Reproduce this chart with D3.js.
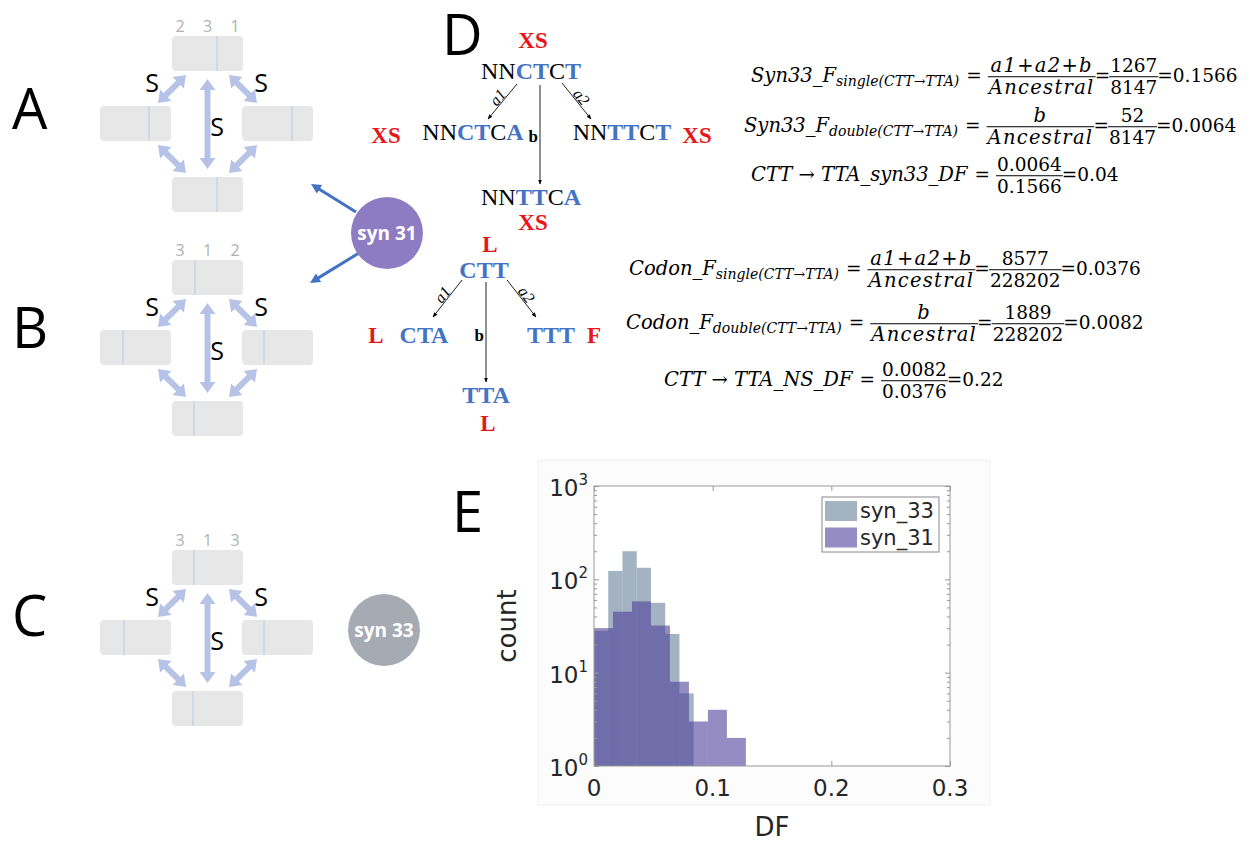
<!DOCTYPE html>
<html>
<head>
<meta charset="utf-8">
<script src="https://cdn.jsdelivr.net/npm/d3@7"></script>
<style>
  body { margin: 0; background: #fff; }
  svg { display: block; }
</style>
</head>
<body>
<div id="chart-area"></div>
<script>
// histogram data (panel E)
var syn33Edges = [0, 0.012, 0.024, 0.036, 0.048, 0.060, 0.072, 0.084];
var syn33Counts = [28, 123, 200, 133, 56, 26, 6];
var syn31Edges = [0, 0.016, 0.032, 0.048, 0.064, 0.080, 0.096, 0.112, 0.128];
var syn31Counts = [30, 45, 58, 32, 8, 3, 4, 2];
var seriesNames = ["syn_33", "syn_31"];
var xTicks = [0, 0.1, 0.2, 0.3];
var yTicks = [1, 10, 100, 1000];
var yTickExp = ["0", "1", "2", "3"];

// codon position labels of panels A, B, C
var posLabels = [["2", "3", "1"], ["3", "1", "2"], ["3", "1", "3"]];

var svg = d3.select("#chart-area")
    .append("svg")
    .attr("width", 1251)
    .attr("height", 843);

var sans = "'Open Sans', sans-serif";
var serif = "'Liberation Serif', 'Times New Roman', serif";
var mathFont = "'DejaVu Serif', serif";
var red = "#e8161b", blue = "#4472c4";

// ---------- panel letters
[["A", 12, 129], ["B", 12, 348], ["C", 12, 636], ["D", 442, 55], ["E", 452, 532]].forEach(function(d) {
    svg.append("text")
        .attr("x", d[1]).attr("y", d[2])
        .style("font-family", sans).style("font-size", "56px")
        .text(d[0]);
});

// ---------- panels A B C : four boxes with double arrows
function dblArrow(g, x1, y1, x2, y2) {
    var sw = 6, hw = 16, hl = 11;
    var dx = x2 - x1, dy = y2 - y1, L = Math.hypot(dx, dy);
    var ux = dx / L, uy = dy / L, px = -uy, py = ux;
    function p(t, s) { return [x1 + ux * t + px * s, y1 + uy * t + py * s]; }
    var pts = [p(0, 0), p(hl, hw / 2), p(hl, sw / 2), p(L - hl, sw / 2), p(L - hl, hw / 2),
        p(L, 0), p(L - hl, -hw / 2), p(L - hl, -sw / 2), p(hl, -sw / 2), p(hl, -hw / 2)];
    g.append("polygon")
        .attr("points", pts.map(function(q) { return q.join(","); }).join(" "))
        .attr("fill", "#b7c3e6");
}

var panelOffsets = [0, 224, 514];
// divider x offset inside each box: [top, left, right, bottom]
var dividers = [[45, 49, 50, 45], [23, 23, 22, 22], [22, 24, 22, 21]];

panelOffsets.forEach(function(dy, k) {
    var g = svg.append("g").attr("transform", "translate(0," + dy + ")");
    var boxes = [[172, 36], [100, 106], [242, 106], [172, 177]];
    boxes.forEach(function(b, i) {
        g.append("rect")
            .attr("x", b[0]).attr("y", b[1])
            .attr("width", 71).attr("height", 35)
            .attr("rx", 4)
            .attr("fill", "#e7e7e7");
        g.append("line")
            .attr("x1", b[0] + dividers[k][i]).attr("x2", b[0] + dividers[k][i])
            .attr("y1", b[1]).attr("y2", b[1] + 35)
            .attr("stroke", "#b9c9e6").attr("stroke-width", 1);
    });
    posLabels[k].forEach(function(t, i) {
        g.append("text")
            .attr("x", 180 + i * 27.5).attr("y", 32)
            .attr("text-anchor", "middle")
            .style("font-family", sans).style("font-size", "16px")
            .attr("fill", "#b0b0b0")
            .text(t);
    });
    dblArrow(g, 158, 103, 186, 75);
    dblArrow(g, 229, 75, 257, 103);
    dblArrow(g, 207.5, 79, 207.5, 169);
    dblArrow(g, 158, 145, 186, 173);
    dblArrow(g, 257, 145, 229, 173);
    [[152, 92], [261, 92], [217, 136]].forEach(function(s) {
        g.append("text")
            .attr("x", s[0]).attr("y", s[1])
            .attr("text-anchor", "middle")
            .style("font-family", sans).style("font-size", "25px")
            .text("S");
    });
});

// ---------- syn circles
function circleLabel(cx, cy, r, fill, label) {
    svg.append("circle").attr("cx", cx).attr("cy", cy).attr("r", r).attr("fill", fill);
    svg.append("text")
        .attr("x", cx).attr("y", cy + 7)
        .attr("text-anchor", "middle")
        .style("font-family", sans).style("font-size", "19px").style("font-weight", "bold")
        .attr("fill", "#fff")
        .text(label);
}

function blueArrow(x1, y1, x2, y2) {
    var dx = x2 - x1, dy = y2 - y1, L = Math.hypot(dx, dy);
    var ux = dx / L, uy = dy / L;
    svg.append("line")
        .attr("x1", x1).attr("y1", y1)
        .attr("x2", x2 - ux * 6).attr("y2", y2 - uy * 6)
        .attr("stroke", blue).attr("stroke-width", 3);
    var bx = x2 - ux * 10, by = y2 - uy * 10;
    svg.append("polygon")
        .attr("points", [[x2, y2], [bx - uy * 5, by + ux * 5], [bx + uy * 5, by - ux * 5]]
            .map(function(q) { return q.join(","); }).join(" "))
        .attr("fill", blue);
}
blueArrow(356, 212, 311, 184);
blueArrow(359, 253, 310, 283);
circleLabel(387, 233, 36, "#8e7cc3", "syn 31");
circleLabel(384, 630, 36, "#a6abb3", "syn 33");

// ---------- panel D trees
function node(cx, y, parts, size) {
    var t = svg.append("text")
        .attr("x", cx).attr("y", y)
        .attr("text-anchor", "middle")
        .style("font-family", serif).style("font-size", (size || 24) + "px");
    parts.forEach(function(p) {
        t.append("tspan")
            .attr("fill", p[1] ? blue : "#000")
            .style("font-weight", p[1] ? "bold" : "normal")
            .text(p[0]);
    });
}
function redLabel(cx, y, s) {
    svg.append("text")
        .attr("x", cx).attr("y", y)
        .attr("text-anchor", "middle")
        .style("font-family", serif).style("font-size", "23px").style("font-weight", "bold")
        .attr("fill", red)
        .text(s);
}

svg.append("defs").append("marker")
    .attr("id", "tip")
    .attr("viewBox", "0 0 10 10")
    .attr("refX", 9).attr("refY", 5)
    .attr("markerWidth", 5).attr("markerHeight", 5)
    .attr("orient", "auto")
    .append("path").attr("d", "M0,1 L10,5 L0,9 Z").attr("fill", "#000");

function thinArrow(x1, y1, x2, y2) {
    svg.append("line")
        .attr("x1", x1).attr("y1", y1).attr("x2", x2).attr("y2", y2)
        .attr("stroke", "#222").attr("stroke-width", 1)
        .attr("marker-end", "url(#tip)");
}
function edgeLabel(x1, y1, x2, y2, s) {
    var ang = Math.atan2(y2 - y1, x2 - x1) * 180 / Math.PI;
    if (ang > 90) ang -= 180;
    svg.append("text")
        .attr("transform", "translate(" + (x1 + x2) / 2 + "," + (y1 + y2) / 2 + ") rotate(" + ang + ")")
        .attr("text-anchor", "middle")
        .attr("dy", -1)
        .style("font-family", serif).style("font-size", "16px").style("font-style", "italic")
        .text(s);
}
function bLabel(x, y) {
    svg.append("text")
        .attr("x", x).attr("y", y)
        .attr("text-anchor", "end")
        .style("font-family", serif).style("font-size", "17px").style("font-weight", "bold")
        .text("b");
}

// upper tree (nucleotide context)
redLabel(533, 48, "XS");
node(531, 79, [["NN", 0], ["CT", 1], ["C", 0], ["T", 1]]);
thinArrow(517, 84, 488, 119);
thinArrow(540, 85, 540, 184);
thinArrow(562, 83, 591, 119);
edgeLabel(517, 84, 488, 119, "a1");
edgeLabel(562, 83, 591, 119, "a2");
bLabel(538, 142);
redLabel(386, 143, "XS");
node(473, 140, [["NN", 0], ["CT", 1], ["C", 0], ["A", 1]]);
node(622, 140, [["NN", 0], ["TT", 1], ["C", 0], ["T", 1]]);
redLabel(697, 143, "XS");
node(531, 205, [["NN", 0], ["TT", 1], ["C", 0], ["A", 1]]);
redLabel(533, 230, "XS");

// lower tree (codon)
redLabel(490, 252, "L");
node(484, 278, [["CTT", 1]]);
thinArrow(462, 280, 433, 317);
thinArrow(486, 282, 486, 382);
thinArrow(507, 280, 536, 317);
edgeLabel(462, 280, 433, 317, "a1");
edgeLabel(507, 280, 536, 317, "a2");
bLabel(484, 341);
redLabel(376, 343, "L");
node(424, 343, [["CTA", 1]]);
node(551, 343, [["TTT", 1]]);
redLabel(594, 343, "F");
node(486, 403, [["TTA", 1]]);
redLabel(488, 431, "L");

// ---------- formulas
function formula(x, y, parts, fs) {
    var g = svg.append("g");
    var cx = x;
    function fracText(yy, s, it) {
        return g.append("text").attr("y", yy)
            .attr("text-anchor", "middle")
            .style("font-family", mathFont).style("font-size", (it ? fs : fs * 0.95) + "px")
            .style("font-style", it ? "italic" : "normal")
            .style("letter-spacing", it ? "1.3px" : "0px")
            .text(s);
    }
    parts.forEach(function(p) {
        if (p.frac) {
            var num = fracText(y - fs * 0.5, p.frac[0], p.it);
            var den = fracText(y + fs * 0.64, p.frac[1], p.it);
            var w = Math.max(num.node().getComputedTextLength(), den.node().getComputedTextLength()) + 2;
            num.attr("x", cx + w / 2);
            den.attr("x", cx + w / 2);
            g.append("line")
                .attr("x1", cx).attr("x2", cx + w)
                .attr("y1", y - fs * 0.27).attr("y2", y - fs * 0.27)
                .attr("stroke", "#000").attr("stroke-width", 1);
            cx += w;
        } else {
            var size = p.sub ? fs * 0.72 : (p.it ? fs : fs * 0.95);
            var pad = p.pad || -1;
            var t = g.append("text")
                .attr("x", cx + pad)
                .attr("y", y + (p.sub ? fs * 0.18 : 0))
                .style("font-family", mathFont).style("font-size", size + "px")
                .style("font-style", p.it ? "italic" : "normal")
                .text(p.t);
            cx += t.node().getComputedTextLength() + (p.it ? 0 : 2 * pad);
        }
    });
}

var fs = 19.5;
formula(752, 82, [{ t: "Syn33_F", it: 1 }, { t: "single(CTT→TTA)", it: 1, sub: 1 },
    { t: "=", pad: 6 }, { frac: ["a1+a2+b", "Ancestral"], it: 1 }, { t: "=" },
    { frac: ["1267", "8147"] }, { t: "=0.1566" }], fs);
formula(745, 132, [{ t: "Syn33_F", it: 1 }, { t: "double(CTT→TTA)", it: 1, sub: 1 },
    { t: "=", pad: 6 }, { frac: ["b", "Ancestral"], it: 1 }, { t: "=" },
    { frac: ["52", "8147"] }, { t: "=0.0064" }], fs);
formula(752, 181, [{ t: "CTT → TTA_syn33_DF", it: 1 }, { t: "=", pad: 6 },
    { frac: ["0.0064", "0.1566"] }, { t: "=0.04" }], fs);

formula(630, 275, [{ t: "Codon_F", it: 1 }, { t: "single(CTT→TTA)", it: 1, sub: 1 },
    { t: "=", pad: 6 }, { frac: ["a1+a2+b", "Ancestral"], it: 1 }, { t: "=" },
    { frac: ["8577", "228202"] }, { t: "=0.0376" }], fs);
formula(627, 329, [{ t: "Codon_F", it: 1 }, { t: "double(CTT→TTA)", it: 1, sub: 1 },
    { t: "=", pad: 6 }, { frac: ["b", "Ancestral"], it: 1 }, { t: "=" },
    { frac: ["1889", "228202"] }, { t: "=0.0082" }], fs);
formula(665, 386, [{ t: "CTT → TTA_NS_DF", it: 1 }, { t: "=", pad: 6 },
    { frac: ["0.0082", "0.0376"] }, { t: "=0.22" }], fs);

// ---------- panel E histogram
var hsans = "'DejaVu Sans', sans-serif";
var plotL = 594, plotR = 950, plotT = 486, plotB = 766;

svg.append("rect")
    .attr("x", 538).attr("y", 460).attr("width", 452).attr("height", 345)
    .attr("fill", "#fcfcfc").attr("stroke", "#f1f1f1");
svg.append("rect")
    .attr("x", plotL).attr("y", plotT).attr("width", plotR - plotL).attr("height", plotB - plotT)
    .attr("fill", "#fff");

var x = d3.scaleLinear().domain([0, 0.3]).range([plotL, plotR]);
var y = d3.scaleLog().domain([1, 1000]).range([plotB, plotT]);

function bins(edges, counts) {
    return counts.map(function(c, i) { return { x0: edges[i], x1: edges[i + 1], c: c }; });
}

var colors = ["rgb(102,128,153)", "rgb(77,64,153)"];
[bins(syn33Edges, syn33Counts), bins(syn31Edges, syn31Counts)].forEach(function(data, k) {
    svg.append("g").selectAll("rect")
        .data(data)
        .enter().append("rect")
        .attr("x", function(d) { return x(d.x0); })
        .attr("width", function(d) { return x(d.x1) - x(d.x0); })
        .attr("y", function(d) { return y(d.c); })
        .attr("height", function(d) { return y(1) - y(d.c); })
        .attr("fill", colors[k])
        .attr("fill-opacity", 0.6);
});

// axes, ticks pointing inward, box on
var minor = [];
[1, 10, 100].forEach(function(dec) {
    for (var m = 2; m <= 9; m++) minor.push(dec * m);
});

var axisColor = "#999";
function styleAxis(sel) {
    sel.select(".domain").remove();
    sel.selectAll("line").attr("stroke", axisColor);
    sel.selectAll("text").remove();
}
svg.append("g").attr("transform", "translate(0," + plotB + ")")
    .call(d3.axisBottom(x).tickValues(xTicks).tickSize(-5)).call(styleAxis);
svg.append("g").attr("transform", "translate(0," + plotT + ")")
    .call(d3.axisTop(x).tickValues(xTicks).tickSize(-5)).call(styleAxis);
svg.append("g").attr("transform", "translate(" + plotL + ",0)")
    .call(d3.axisLeft(y).tickValues(yTicks).tickSize(-5)).call(styleAxis);
svg.append("g").attr("transform", "translate(" + plotR + ",0)")
    .call(d3.axisRight(y).tickValues(yTicks).tickSize(-5)).call(styleAxis);
svg.append("g").attr("transform", "translate(" + plotL + ",0)")
    .call(d3.axisLeft(y).tickValues(minor).tickSize(-3)).call(styleAxis);
svg.append("g").attr("transform", "translate(" + plotR + ",0)")
    .call(d3.axisRight(y).tickValues(minor).tickSize(-3)).call(styleAxis);
svg.append("rect")
    .attr("x", plotL).attr("y", plotT).attr("width", plotR - plotL).attr("height", plotB - plotT)
    .attr("fill", "none").attr("stroke", axisColor).attr("stroke-width", 1);

// tick labels
xTicks.forEach(function(t) {
    svg.append("text")
        .attr("x", x(t)).attr("y", plotB + 30)
        .attr("text-anchor", "middle")
        .style("font-family", hsans).style("font-size", "23px")
        .attr("fill", "#262626")
        .text(t === 0 ? "0" : String(t));
});
yTicks.forEach(function(t, i) {
    var lab = svg.append("text")
        .attr("x", plotL - 6).attr("y", y(t) + 10)
        .attr("text-anchor", "end")
        .style("font-family", hsans).style("font-size", "23px")
        .attr("fill", "#262626");
    lab.append("tspan").text("10");
    lab.append("tspan").attr("dy", -11).style("font-size", "15px").text(yTickExp[i]);
});

svg.append("text")
    .attr("x", x(0.15)).attr("y", 836)
    .attr("text-anchor", "middle")
    .style("font-family", hsans).style("font-size", "26px")
    .attr("fill", "#262626")
    .text("DF");
svg.append("text")
    .attr("transform", "translate(516," + (plotT + plotB) / 2 + ") rotate(-90)")
    .attr("text-anchor", "middle")
    .style("font-family", hsans).style("font-size", "26px")
    .attr("fill", "#262626")
    .text("count");

// legend
var lg = svg.append("g");
lg.append("rect")
    .attr("x", 822).attr("y", 497).attr("width", 117).attr("height", 55)
    .attr("fill", "#fff").attr("stroke", "#888");
seriesNames.forEach(function(name, i) {
    lg.append("rect")
        .attr("x", 825).attr("y", 501 + i * 26.5)
        .attr("width", 32).attr("height", 20)
        .attr("fill", colors[i]).attr("fill-opacity", 0.6);
    lg.append("text")
        .attr("x", 860).attr("y", 518 + i * 26.5)
        .style("font-family", hsans).style("font-size", "21px")
        .attr("fill", "#262626")
        .text(name);
});
</script>
</body>
</html>
